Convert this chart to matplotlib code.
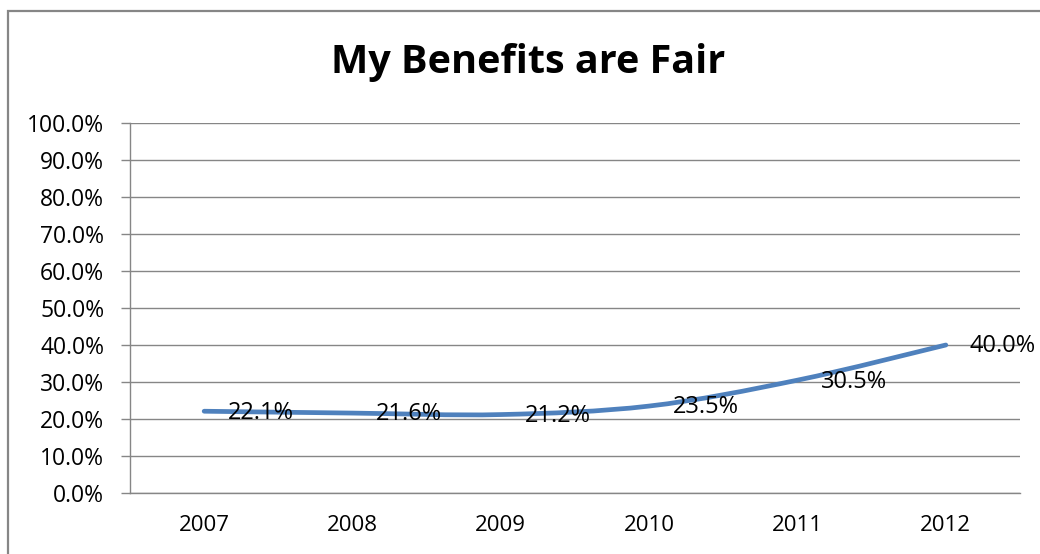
import matplotlib
matplotlib.use('Agg')
import matplotlib.pyplot as plt
from matplotlib.path import Path
from matplotlib.patches import PathPatch, Rectangle

plt.rcParams['font.family'] = ['Open Sans', 'DejaVu Sans']

# data
years = ['2007', '2008', '2009', '2010', '2011', '2012']
values = [22.1, 21.6, 21.2, 23.5, 30.5, 40.0]
y_ticks = [0, 10, 20, 30, 40, 50, 60, 70, 80, 90, 100]

grey = '#868686'
blue = '#4F81BD'

fig = plt.figure(figsize=(10.4, 5.54), dpi=100)
ax = fig.add_axes([130 / 1040, 61 / 554, 890 / 1040, 370 / 554])

# smoothed line (Excel style bezier through the points)
xs = list(range(len(years)))
n = len(xs)
verts = [(xs[0], values[0])]
codes = [Path.MOVETO]
for i in range(n - 1):
    p0 = i - 1 if i > 0 else i
    p3 = i + 2 if i + 2 < n else i + 1
    c1 = (xs[i] + (xs[i + 1] - xs[p0]) / 6, values[i] + (values[i + 1] - values[p0]) / 6)
    c2 = (xs[i + 1] - (xs[p3] - xs[i]) / 6, values[i + 1] - (values[p3] - values[i]) / 6)
    verts += [c1, c2, (xs[i + 1], values[i + 1])]
    codes += [Path.CURVE4] * 3
ax.add_patch(PathPatch(Path(verts, codes), facecolor='none', edgecolor=blue,
                       lw=3.4, capstyle='round', joinstyle='round', zorder=3))

for x, v in zip(xs, values):
    ax.annotate('{:.1f}%'.format(v), (x, v), xytext=(17, -1), textcoords='offset points',
                ha='left', va='center', fontsize=17, color='black', zorder=4)

ax.set_xlim(-0.5, n - 0.5)
ax.set_ylim(0, 100)
ax.set_xticks(xs)
ax.set_xticklabels(years)
ax.set_yticks(y_ticks)
ax.set_yticklabels(['{:.1f}%'.format(t) for t in y_ticks])
ax.yaxis.grid(True, color=grey, lw=1)
ax.set_axisbelow(True)
for s in ['top', 'right']:
    ax.spines[s].set_visible(False)
for s in ['left', 'bottom']:
    ax.spines[s].set_color(grey)
    ax.spines[s].set_linewidth(1)
ax.tick_params(axis='y', length=6.5, color=grey, width=1, pad=12, labelsize=16.5)
ax.tick_params(axis='x', length=0, pad=16, labelsize=16)

fig.text(528 / 1040, 1 - 62 / 554, 'My Benefits are Fair', ha='center', va='center',
         fontsize=28.5, fontweight='bold')

# chart border
fig.patches.append(Rectangle((8 / 1040, -0.1), 1.2, 1 - 11 / 554 + 0.1, transform=fig.transFigure,
                             fill=False, edgecolor=grey, lw=1.6))

fig.savefig('out.png', dpi=100)
